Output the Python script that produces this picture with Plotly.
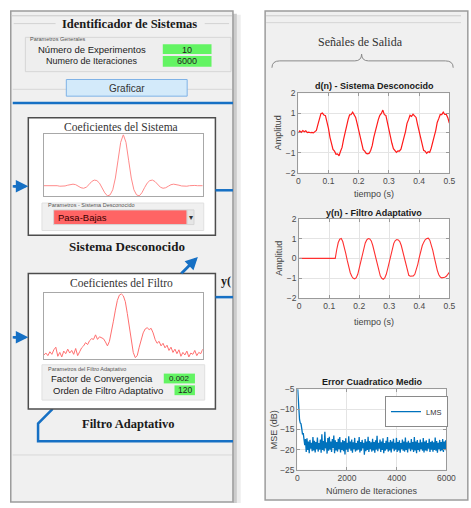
import plotly.graph_objects as go

# ---------------- data ----------------
sys_coef = [0.0, 0.0, 0.0, 0.005, 0.005, 0.0, -0.01, -0.01, -0.005, 0.01,
            0.025, 0.03, 0.02, -0.01, -0.04, -0.05, -0.03, 0.02, 0.08, 0.11,
            0.10, 0.05, -0.04, -0.14, -0.20, -0.18, -0.08, 0.15, 0.50, 0.85,
            1.00,
            0.85, 0.50, 0.15, -0.08, -0.18, -0.20, -0.14, -0.04, 0.05, 0.10,
            0.11, 0.08, 0.02, -0.03, -0.05, -0.04, -0.01, 0.02, 0.03, 0.025,
            0.01, -0.005, -0.01, -0.01, 0.0, 0.005, 0.005, 0.0, 0.0, 0.0]

filt_coef = [0.06, 0.09, 0.05, 0.11, 0.07, 0.14, 0.18, 0.04, 0.10, 0.03,
             0.12, 0.08, 0.15, 0.09, 0.13, 0.07, 0.16, 0.05, 0.11, 0.17,
             0.20, 0.25, 0.22, 0.28, 0.31, 0.30, 0.37, 0.30, 0.34, 0.33,
             0.31, 0.26, 0.20, 0.27, 0.40, 0.58, 0.75, 0.90, 0.98, 1.00,
             0.97, 0.88, 0.70, 0.48, 0.28, 0.10, 0.02, 0.05, 0.18, 0.30,
             0.40, 0.46, 0.48, 0.45, 0.47, 0.40, 0.30, 0.24, 0.27, 0.20,
             0.24, 0.17, 0.21, 0.13, 0.18, 0.10, 0.15, 0.08, 0.14, 0.04,
             0.10, 0.06, 0.12, 0.03, 0.09, 0.07, 0.13, 0.05, 0.10, 0.08,
             0.15]

t_s = [round(i * 0.005, 3) for i in range(101)]

d_n = [0.00, 0.10, 0.03, 0.12, 0.06, 0.11, 0.02, 0.04, 0.01, 0.03,
       0.00, 0.06, 0.13, 0.42, 0.68, 0.97, 1.00, 0.90, 0.87, 0.58,
       0.23, -0.22, -0.52, -0.83, -0.92, -1.08, -1.06, -1.15, -0.92, -0.73,
       -0.32, 0.02, 0.43, 0.67, 0.91, 0.93, 1.05, 0.88, 0.78, 0.47,
       0.13, -0.33, -0.57, -0.84, -0.92, -1.03, -1.05, -1.02, -0.87, -0.63,
       -0.22, 0.07, 0.48, 0.67, 0.89, 0.98, 1.15, 0.92, 0.88, 0.52,
       0.18, -0.28, -0.52, -0.79, -0.87, -0.98, -0.90, -0.91, -0.82, -0.58,
       -0.22, 0.07, 0.48, 0.67, 0.89, 0.83, 0.94, 0.86, 0.78, 0.42,
       0.13, -0.28, -0.57, -0.88, -0.92, -1.03, -0.95, -0.98, -0.77, -0.53,
       -0.17, 0.12, 0.53, 0.72, 0.93, 0.92, 1.05, 0.93, 0.93, 0.77,
       0.50]

y_n = [0.0] * 25 + [
       0.45, 0.80, 0.97, 1.00, 0.85, 0.60, 0.25, -0.10, -0.45, -0.72,
       -0.90, -1.00, -1.03, -0.97, -0.80,
       -0.50, -0.15, 0.20, 0.50, 0.78, 0.93, 1.00, 0.98, 0.88, 0.65,
       0.35, 0.00, -0.35, -0.65, -0.88, -1.00, -1.05, -0.98, -0.80, -0.50,
       -0.15, 0.20, 0.52, 0.76, 0.90, 0.95, 0.93, 0.85, 0.65, 0.35,
       0.00, -0.35, -0.65, -0.85, -0.90, -0.90, -0.88, -0.80, -0.60, -0.30,
       0.05, 0.40, 0.65, 0.82, 0.95, 1.00, 1.02, 0.92, 0.70, 0.40,
       0.05, -0.30, -0.60, -0.82, -0.94, -0.98, -0.97, -0.95, -0.90, -0.80,
       -0.70]

iters = [30 * i for i in range(201)]
mse_db = [-3.0, -7.5, -10.5, -12.5, -13.4, -13.6, -14.8, -16.2, -15.9, -17.6, -18.9, -17.4,
          -20.6, -17.2, -20.1, -18.0, -20.9, -17.6, -19.8, -18.3, -20.4, -16.9,
          -20.2, -17.8, -20.7, -18.1, -19.9, -17.0, -20.5, -18.4, -20.0, -17.5,
          -20.8, -16.2, -20.1, -17.9, -20.4, -15.6, -19.7, -18.2, -21.0, -17.1,
          -20.3, -16.8, -20.0, -18.0, -20.6, -17.4, -19.6, -16.5, -20.9, -17.7,
          -20.2, -18.1, -20.5, -17.3, -19.9, -16.9, -20.7, -18.2, -20.1, -17.6,
          -20.4, -17.9, -21.2, -17.2, -20.0, -18.3, -20.6, -16.7, -19.8, -18.0,
          -20.3, -17.5, -20.8, -18.2, -19.9, -17.1, -20.5, -18.4, -20.2, -17.8,
          -20.0, -16.9, -20.7, -18.1, -20.3, -17.6, -19.7, -18.3, -21.3, -17.4,
          -20.4, -18.0, -20.1, -16.8, -20.6, -17.9, -19.9, -18.2, -20.5, -17.3,
          -20.2, -18.1, -20.8, -17.7, -20.0, -16.6, -20.4, -18.3, -19.8, -17.5,
          -20.6, -18.0, -20.1, -17.2, -20.9, -18.4, -20.3, -17.8, -19.9, -16.9,
          -20.5, -18.2, -20.2, -17.6, -20.7, -18.0, -19.8, -17.3, -20.4, -18.3,
          -20.0, -17.1, -20.6, -18.1, -20.2, -17.7, -20.8, -18.4, -19.9, -17.5,
          -20.3, -18.0, -20.5, -17.0, -20.1, -18.2, -20.7, -17.8, -19.8, -18.3,
          -20.4, -17.4, -20.0, -18.1, -20.6, -16.9, -20.2, -18.0, -20.9, -17.6,
          -20.1, -18.3, -20.5, -17.5, -19.9, -18.2, -20.3, -17.1, -20.7, -18.0,
          -20.2, -17.7, -20.4, -18.4, -19.8, -17.3, -20.6, -18.1, -20.0, -17.8,
          -20.5, -18.2, -20.1, -17.0, -20.3, -17.9, -20.8, -18.3, -19.9, -17.6,
          -20.4, -18.1, -20.2, -17.4, -20.6, -18.0, -19.9, -17.7, -20.3]

time_ticks = [0, 0.1, 0.2, 0.3, 0.4, 0.5]
amp_ticks = [-2, -1, 0, 1, 2]
iter_ticks = [0, 2000, 4000, 6000]
mse_ticks = [-25, -20, -15, -10, -5]

# ---------------- helpers ----------------
W, H = 471, 508
def X(p): return p / W
def Y(p): return 1 - p / H

SANS = "Arial, Liberation Sans, sans-serif"
SERIF = "Times New Roman, Liberation Serif, serif"
BLUE = "#1670c4"

fig = go.Figure()
fig.add_trace(go.Scatter(x=list(range(len(sys_coef))), y=sys_coef, mode="lines",
                         line=dict(color="#ff8a8a", width=1), xaxis="x", yaxis="y", showlegend=False))
fig.add_trace(go.Scatter(x=list(range(len(filt_coef))), y=filt_coef, mode="lines",
                         line=dict(color="#ff6f6f", width=1), xaxis="x2", yaxis="y2", showlegend=False))
fig.add_trace(go.Scatter(x=t_s, y=d_n, mode="lines", line=dict(color="#ff1a1a", width=1.2),
                         xaxis="x3", yaxis="y3", showlegend=False))
fig.add_trace(go.Scatter(x=t_s, y=y_n, mode="lines", line=dict(color="#ff3030", width=1.1),
                         xaxis="x4", yaxis="y4", showlegend=False))
fig.add_trace(go.Scatter(x=iters, y=mse_db, mode="lines", name="LMS",
                         line=dict(color="#0072BD", width=1.3), xaxis="x5", yaxis="y5", showlegend=True))

def dom(a, b): return [X(a), X(b)]
def vdom(top, bot): return [Y(bot), Y(top)]

coef_ax = dict(showgrid=False, showticklabels=False, ticks="", showline=True, mirror=True,
               linecolor="#a8a8a8", linewidth=1, zeroline=False)
sig_ax = dict(showgrid=True, gridcolor="#e4e4e4", gridwidth=1, showline=True, mirror="ticks",
              linecolor="#9a9a9a", linewidth=1, ticks="inside", ticklen=3, tickcolor="#9a9a9a",
              zeroline=False, tickfont=dict(family=SANS, size=8.5, color="#4a4a4a"))

layout = dict(
    width=W, height=H, margin=dict(l=0, r=0, t=0, b=0),
    paper_bgcolor="white", plot_bgcolor="rgba(0,0,0,0)",
    xaxis=dict(domain=dom(43, 206), range=[0, 60], anchor="y", **coef_ax),
    yaxis=dict(domain=vdom(132, 195), range=[-0.205, 1.005], anchor="x", **coef_ax),
    xaxis2=dict(domain=dom(43, 206), range=[0, 80], anchor="y2", **coef_ax),
    yaxis2=dict(domain=vdom(294, 361), range=[0, 1.01], anchor="x2", **coef_ax),
    xaxis3=dict(domain=dom(304, 459), range=[0, 0.5], tickvals=time_ticks, anchor="y3", **sig_ax),
    yaxis3=dict(domain=vdom(90, 171), range=[-2, 2], tickvals=amp_ticks, anchor="x3", **sig_ax),
    xaxis4=dict(domain=dom(305, 459), range=[0, 0.5], tickvals=time_ticks, anchor="y4", **sig_ax),
    yaxis4=dict(domain=vdom(218, 299), range=[-2, 2], tickvals=amp_ticks, anchor="x4", **sig_ax),
    xaxis5=dict(domain=dom(303, 456), range=[0, 6000], tickvals=iter_ticks, anchor="y5", **sig_ax),
    yaxis5=dict(domain=vdom(392, 474), range=[-25, -5], tickvals=mse_ticks, anchor="x5", **sig_ax),
    legend=dict(x=X(393), y=Y(399), xanchor="left", yanchor="top", bgcolor="white",
                bordercolor="#8a8a8a", borderwidth=1, font=dict(family=SANS, size=7.5, color="#333"),
                itemwidth=30, tracegroupgap=0),
    hovermode=False,
)

shapes = []
def rect(x0, y0, x1, y1, fill, line="rgba(0,0,0,0)", lw=1):
    shapes.append(dict(type="rect", xref="paper", yref="paper", x0=X(x0), x1=X(x1), y0=Y(y1), y1=Y(y0),
                       fillcolor=fill, line=dict(color=line, width=lw), layer="below"))
def hline(x0, x1, y, color, w=1):
    shapes.append(dict(type="line", xref="paper", yref="paper", x0=X(x0), x1=X(x1), y0=Y(y), y1=Y(y),
                       line=dict(color=color, width=w), layer="below"))
def path(pts, color, w):
    d = "M " + " L ".join(f"{X(a):.5f},{Y(b):.5f}" for a, b in pts)
    shapes.append(dict(type="path", xref="paper", yref="paper", path=d, line=dict(color=color, width=w),
                       layer="below"))

# left panel + shadow
rect(237, 9, 241, 508, "rgba(0,0,0,0.20)")
rect(241, 10, 245, 508, "rgba(0,0,0,0.07)")
rect(9, 6, 237, 507, "#f0f0f0", "#9c9c9c", 1.5)
hline(10, 236, 11, "#c9c9c9")
hline(12, 55, 19, "#d2d2d2")
hline(208, 233, 19, "#d2d2d2")
rect(24, 33, 235, 68, "#eeeeee", "#d6d6d6")
rect(165, 40, 215, 50, "#63f463")
rect(165, 52, 215, 63, "#63f463")
hline(11, 236, 86, "#d8d8d8")
rect(66, 76, 190, 93, "#d3eafa", "#7fb2e6")
hline(11, 237, 100, BLUE, 2.5)

# sistema box
rect(27, 115, 219, 235, "white", "#4d4d4d", 1.5)
rect(41, 202, 207, 230, "#f0f0f0", "#e0e0e0")
rect(53, 209, 190, 224, "#ff6464", "#d5d5d5")
rect(190, 209, 197, 224, "#e6e6e6", "#d5d5d5")
hline(219, 237, 189, BLUE, 2.5)
hline(11, 24, 185, BLUE, 2.5)

# filter box
path([(52, 412), (37, 427), (37, 445), (237, 445)], BLUE, 2.5)
path([(183, 275), (197, 261)], BLUE, 2.5)
rect(27, 274, 219, 412, "white", "#4d4d4d", 1.5)
rect(41, 367, 208, 403, "#f0f0f0", "#e0e0e0")
rect(166, 376, 198, 386, "#63f463")
rect(177, 388, 198, 398, "#63f463")
hline(219, 237, 298, BLUE, 2.5)
hline(11, 24, 339, BLUE, 2.5)
hline(11, 236, 459, "#d8d8d8")

# right panel
rect(270, 6, 478, 505, "#f0f0f0", "#9c9c9c", 1.5)
hline(271, 471, 11, "#c9c9c9")
hline(271, 471, 18, "#d6d6d6")
# brace
bp = (f"M {X(277):.5f},{Y(64):.5f} Q {X(277):.5f},{Y(57):.5f} {X(285):.5f},{Y(57):.5f} "
      f"L {X(362):.5f},{Y(57):.5f} Q {X(369):.5f},{Y(57):.5f} {X(369):.5f},{Y(50):.5f} "
      f"Q {X(369):.5f},{Y(57):.5f} {X(376):.5f},{Y(57):.5f} "
      f"L {X(455):.5f},{Y(57):.5f} Q {X(463):.5f},{Y(57):.5f} {X(463):.5f},{Y(64):.5f}")
shapes.append(dict(type="path", xref="paper", yref="paper", path=bp,
                   line=dict(color="#8a8a8a", width=1), layer="below"))

# white plot backgrounds
for k in ["", "2", "3", "4", "5"]:
    shapes.append(dict(type="rect", xref=f"x{k} domain", yref=f"y{k} domain", x0=0, x1=1, y0=0, y1=1,
                       fillcolor="white", line=dict(width=0), layer="below"))

layout["shapes"] = shapes

ann = []
def txt(x, y, s, size, family=SANS, color="#222", xanchor="center", bold=False, angle=0):
    if bold:
        s = f"<b>{s}</b>"
    ann.append(dict(x=X(x), y=Y(y), xref="paper", yref="paper", text=s, showarrow=False,
                    xanchor=xanchor, yanchor="middle", textangle=angle,
                    font=dict(family=family, size=size, color=color)))
def arrow(x0, y0, x1, y1):
    ann.append(dict(x=X(x1), y=Y(y1), xref="paper", yref="paper", ax=x0 - x1, ay=y0 - y1, text="",
                    showarrow=True, arrowhead=2, arrowsize=1, arrowwidth=2.5, arrowcolor=BLUE))

txt(131, 19, "Identificador de Sistemas", 12.5, SERIF, "#1a1a1a", bold=True)
txt(27, 34.5, "Parametros Generales", 5.5, SANS, "#555", xanchor="left")
txt(92, 45, "Número de Experimentos", 9.5)
txt(92, 57, "Numero de Iteraciones", 9)
txt(190, 45.5, "10", 9)
txt(190, 57.5, "6000", 9)
txt(128, 85, "Graficar", 10, SANS, "#333")
txt(122, 124, "Coeficientes del Sistema", 11.5, SERIF, "#333")
txt(45, 204.5, "Parametros - Sistema Desconocido", 5.5, SANS, "#555", xanchor="left")
txt(55, 217, "Pasa-Bajas", 9.5, SANS, "#3a0000", xanchor="left")
txt(193.5, 217, "▾", 8, SANS, "#333")
txt(128, 246, "Sistema Desconocido", 13, SERIF, "#1a1a1a", bold=True)
txt(123, 284, "Coeficientes del Filtro", 11.5, SERIF, "#333")
txt(45, 371, "Parametros del Filtro Adaptativo", 5.5, SANS, "#555", xanchor="left")
txt(103, 381, "Factor de Convergencia", 9.5)
txt(182, 381, "0.002", 8)
txt(109, 393, "Orden de Filtro Adaptativo", 9.5)
txt(187.5, 393, "120", 8.5)
txt(129, 427, "Filtro Adaptativo", 12.5, SERIF, "#1a1a1a", bold=True)
txt(223, 282, "y(", 12, SERIF, "#1a1a1a", xanchor="left", bold=True)
txt(368, 38, "Señales de Salida", 12, SERIF, "#333")
txt(382, 83, "d(n) - Sistema Desconocido", 9, SANS, "#1a1a1a", bold=True)
txt(382, 212, "y(n) - Filtro Adaptativo", 9, SANS, "#1a1a1a", bold=True)
txt(380, 385, "Error Cuadratico Medio", 9, SANS, "#1a1a1a", bold=True)
txt(284, 130, "Amplitud", 9, SANS, "#444", angle=-90)
txt(284, 258, "Amplitud", 9, SANS, "#444", angle=-90)
txt(280, 433, "MSE (dB)", 9, SANS, "#444", angle=-90)
txt(382, 193, "tiempo (s)", 9, SANS, "#444")
txt(382, 323, "tiempo (s)", 9, SANS, "#444")
txt(380, 496, "Número de Iteraciones", 9, SANS, "#444")
arrow(11, 185, 27, 185)
arrow(11, 339, 27, 339)
arrow(183, 275, 201, 257)
layout["annotations"] = ann

fig.update_layout(**layout)
fig.write_html("out.html", config={"displayModeBar": False},
               post_script="document.body.style.margin='0';document.body.style.overflow='hidden';")
